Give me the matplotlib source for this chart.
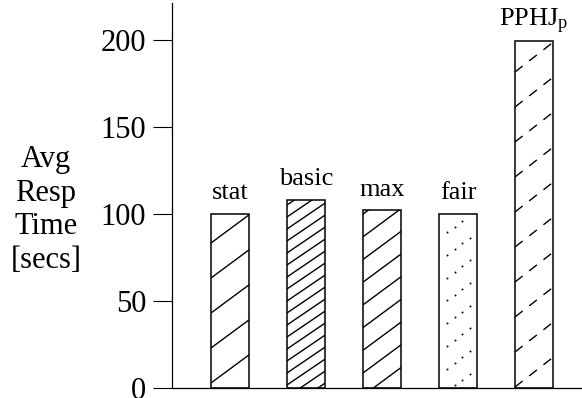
import numpy as np
import matplotlib
matplotlib.use("Agg")
import matplotlib.pyplot as plt
from matplotlib.lines import Line2D
from matplotlib.transforms import IdentityTransform

plt.rcParams['font.family'] = ['Liberation Serif', 'DejaVu Serif']
plt.rcParams['mathtext.fontset'] = 'custom'
plt.rcParams['mathtext.rm'] = 'Liberation Serif'
plt.rcParams['mathtext.it'] = 'Liberation Serif:italic'
plt.rcParams['lines.scale_dashes'] = False

# ---- data ----
categories = ['stat', 'basic', 'max', 'fair', r'PPHJ$_{\mathrm{p}}$']
values = [100, 108, 102, 100, 199]
yticks = [0, 50, 100, 150, 200]
ylabel = "Avg\nResp\nTime\n[secs]"

W, H = 582, 398
fig = plt.figure(figsize=(W / 100, H / 100), dpi=100)
ax = fig.add_axes([172 / W, 10 / H, 410 / W, 385 / H])

x = np.arange(len(categories))
bars = ax.bar(x, values, width=0.5, color='white', edgecolor='black',
              linewidth=1.1, zorder=2)
ax.set_xlim(-0.763, 4.632)
ax.set_ylim(0, 221)

for s in ['top', 'right']:
    ax.spines[s].set_visible(False)
for s in ['left', 'bottom']:
    ax.spines[s].set_linewidth(0.9)
ax.set_xticks([])
ax.set_yticks(yticks)
ax.set_yticklabels([str(t) for t in yticks], fontsize=22)
ax.tick_params(axis='y', direction='out', length=13.5, width=0.8, pad=5)

fig.text(46 / W, 1 - 210 / H, ylabel, ha='center', va='center',
         fontsize=22, linespacing=1.2)

for b, lab in zip(bars, categories):
    ax.annotate(lab, (b.get_x() + b.get_width() / 2, b.get_height()),
                xytext=(0, 10.5), textcoords='offset points',
                ha='center', va='baseline', fontsize=19)

# ---- hatch patterns (drawn in pixel space, clipped to each bar) ----
def bar_pixels(b):
    (x0, y0), (x1, y1) = ax.transData.transform(
        [(b.get_x(), 0), (b.get_x() + b.get_width(), b.get_height())])
    return x0, y0, x1, y1

def hatch_lines(b, slope, spacing, phase, lw=1.0, dashes=None):
    x0, y0, x1, y1 = bar_pixels(b)
    h = y1 - y0
    rise = slope * (x1 - x0)
    kmin = int(np.floor(-(rise + phase) / spacing)) - 1
    kmax = int(np.ceil((h - phase) / spacing)) + 1
    for k in range(kmin, kmax + 1):
        yl = y0 + phase + k * spacing
        ln = Line2D([x0, x1], [yl, yl + rise],
                    transform=IdentityTransform(), color='black', lw=lw,
                    zorder=2.5, solid_capstyle='butt', dash_capstyle='butt')
        if dashes is not None:
            ln.set_dashes(dashes)
        ax.add_artist(ln)
        ln.set_clip_path(b)

def hatch_dots(b, dx, dy, period, x_start, phase, ncols):
    x0, y0, x1, y1 = bar_pixels(b)
    h = y1 - y0
    xs, ys = [], []
    for i in range(ncols):
        for k in range(-2, int(h / period) + 3):
            yy = y0 + phase + i * dy + k * period
            if y0 + 2 < yy < y1 - 2:
                xs.append(x0 + x_start + i * dx)
                ys.append(yy)
    ln = Line2D(xs, ys, transform=IdentityTransform(), linestyle='none',
                marker='o', markersize=1.4, markeredgewidth=0,
                markerfacecolor='black', zorder=2.5)
    ax.add_artist(ln)
    ln.set_clip_path(b)

hatch_lines(bars[0], 0.74, 35.0, 5.0)
hatch_lines(bars[1], 0.68, 12.0, 3.0)
hatch_lines(bars[2], 0.74, 22.7, 15.0)
hatch_dots(bars[3], 7.7, 5.8, 22.7, 8.0, 19.5, 4)
hatch_lines(bars[4], 0.78, 35.0, 1.0, dashes=(7.0, 6.0))

fig.savefig('out.png', dpi=100)
